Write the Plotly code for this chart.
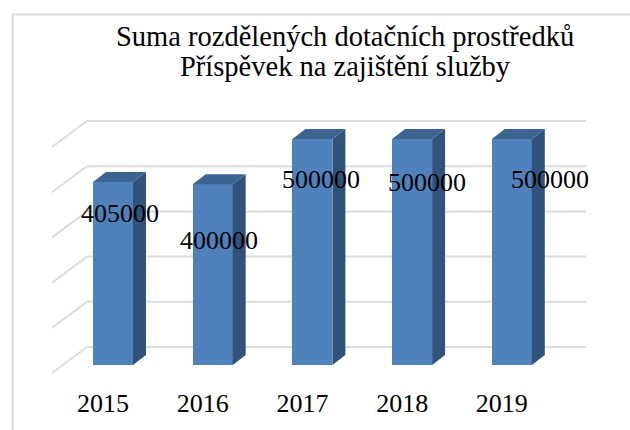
import plotly.graph_objects as go

years = ["2015", "2016", "2017", "2018", "2019"]
values = [405000, 400000, 500000, 500000, 500000]
labels = ["405000", "400000", "500000", "500000", "500000"]
grid_values = [0, 100000, 200000, 300000, 400000, 500000]
title_lines = ["Suma rozdělených dotačních prostředků", "Příspěvek na zajištění služby"]

W, H = 630, 430
PLOT_BOTTOM = 385
PX_X = 99.7            # px per category
PX_Y = 226 / 500000    # px per unit
X0_PX, Y0_PX = 113, 365


def dx(px):
    return px / PX_X


def dy(px):
    return px / PX_Y


BAR_W = dx(40)
D_X, D_Y = dx(13), dy(10)
G_LEFT = dx(52 - X0_PX)
G_RIGHT = dx(586 - X0_PX)
G_DX, G_DY = dx(35), dy(26)
G_FRONT = -dy(8)

FRONT = "#4f81bd"
SIDE = "#31527b"
TOP = "#3d6390"
GRID = "#dcdcdc"
FONT = "Liberation Serif"

fig = go.Figure()
idx = list(range(len(years)))

fig.add_trace(go.Bar(x=idx, y=values, width=BAR_W, marker=dict(color=FRONT, line=dict(width=0)),
                     hoverinfo="skip"))

for i, v in zip(idx, values):
    l, r = i - BAR_W / 2, i + BAR_W / 2
    fig.add_trace(go.Scatter(x=[r, r + D_X, r + D_X, r, r], y=[0, D_Y, v + D_Y, v, 0],
                             mode="lines", fill="toself", fillcolor=SIDE, line=dict(width=0),
                             hoverinfo="skip"))
    fig.add_trace(go.Scatter(x=[l, l + D_X, r + D_X, r, l], y=[v, v + D_Y, v + D_Y, v, v],
                             mode="lines", fill="toself", fillcolor=TOP, line=dict(width=0),
                             hoverinfo="skip"))

for g in grid_values:
    y0 = g + G_FRONT
    fig.add_shape(type="line", layer="below", x0=G_LEFT, y0=y0, x1=G_LEFT + G_DX, y1=y0 + G_DY,
                  line=dict(color=GRID, width=2))
    fig.add_shape(type="line", layer="below", x0=G_LEFT + G_DX, y0=y0 + G_DY, x1=G_RIGHT, y1=y0 + G_DY,
                  line=dict(color=GRID, width=2))

label_shift = [(6.6, 32), (6, 56.5), (8.5, 40), (15, 43), (38, 40)]
for i, v, t, (sx, sy) in zip(idx, values, labels, label_shift):
    fig.add_annotation(x=i, y=v, text=t, showarrow=False, xshift=sx, yshift=-sy,
                       xanchor="center", yanchor="middle",
                       font=dict(family=FONT, size=26, color="#000000"))

# title lines
for line, ypx in zip(title_lines, [36, 66]):
    fig.add_annotation(xref="paper", yref="paper", x=345 / W, y=1 - ypx / PLOT_BOTTOM, text=line,
                       showarrow=False, xanchor="center", yanchor="middle",
                       font=dict(family=FONT, size=28.5, color="#000000"))

# chart frame
bottom_paper = -(H - PLOT_BOTTOM) / PLOT_BOTTOM
fx = 12.5 / W
fy = 1 - 14.5 / PLOT_BOTTOM
fig.add_shape(type="line", xref="paper", yref="paper", x0=fx, x1=fx, y0=bottom_paper, y1=fy,
              line=dict(color=GRID, width=2))
fig.add_shape(type="line", xref="paper", yref="paper", x0=fx, x1=1, y0=fy, y1=fy,
              line=dict(color=GRID, width=2))

fig.update_layout(
    width=W, height=H, autosize=False, showlegend=False, bargap=0,
    paper_bgcolor="#ffffff", plot_bgcolor="rgba(0,0,0,0)",
    margin=dict(l=0, r=0, t=0, b=H - PLOT_BOTTOM, pad=0),
    xaxis=dict(range=[-X0_PX / PX_X, (W - X0_PX) / PX_X], showgrid=False, zeroline=False, showline=False,
               tickmode="array", tickvals=[i - 0.1 for i in idx], ticktext=years, ticks="",
               tickfont=dict(family=FONT, size=26, color="#000000")),
    yaxis=dict(range=[-(PLOT_BOTTOM - Y0_PX) / PX_Y, Y0_PX / PX_Y], visible=False),
)

fig.write_html("out.html", config={"displayModeBar": False},
               post_script="document.body.style.margin='0';")
